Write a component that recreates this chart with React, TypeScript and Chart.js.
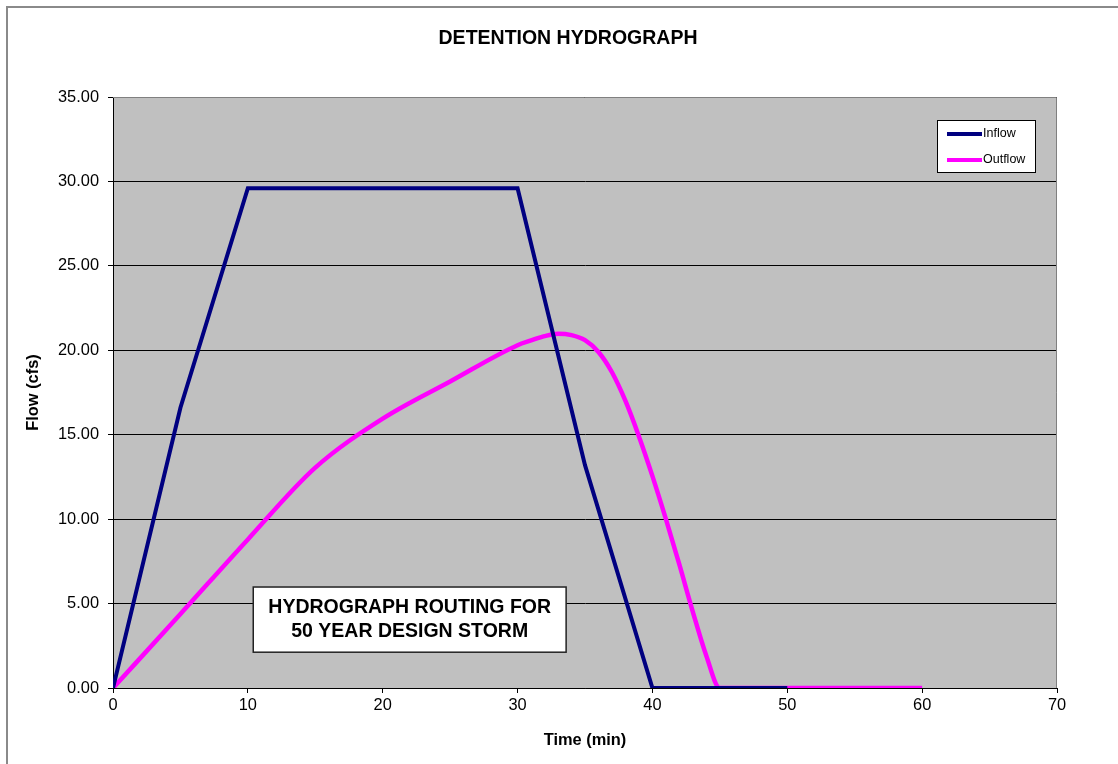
import React, { useEffect, useRef } from "react";
import { Chart, registerables } from "chart.js";

Chart.register(...registerables);

const FONT = '"Liberation Sans", Arial, sans-serif';

const TITLE = "DETENTION HYDROGRAPH";
const X_TITLE = "Time (min)";
const Y_TITLE = "Flow (cfs)";
const NOTE_LINES = ["HYDROGRAPH ROUTING FOR", "50 YEAR DESIGN STORM"];

const INFLOW_LABEL = "Inflow";
const OUTFLOW_LABEL = "Outflow";

const INFLOW_TIME = [0, 5, 10, 15, 20, 25, 30, 35, 40, 45, 50];
const INFLOW_FLOW = [0, 16.6, 29.6, 29.6, 29.6, 29.6, 29.6, 13.2, 0, 0, 0];

const OUTFLOW_TIME = [0, 5, 10, 15, 20, 25, 30, 31, 32, 33, 34, 35, 36, 37, 38, 39, 40, 41, 42, 43, 44, 45, 50, 55, 60];
const OUTFLOW_FLOW = [0, 4.38, 8.8, 13.05, 15.95, 18.15, 20.3, 20.58, 20.84, 20.98, 20.9, 20.6, 19.9, 18.7, 17.0, 14.9, 12.55, 10.0, 7.3, 4.5, 1.9, 0, 0, 0, 0];

const X_MIN = 0;
const X_MAX = 70;
const X_STEP = 10;
const Y_MIN = 0;
const Y_MAX = 35;
const Y_STEP = 5;

const INFLOW_COLOR = "#000080";
const OUTFLOW_COLOR = "#FF00FF";

const framePlugin = {
  id: "frameAndBackground",
  beforeDraw(chart: any) {
    const { ctx, chartArea, width, height } = chart;
    ctx.save();
    ctx.fillStyle = "#ffffff";
    ctx.fillRect(0, 0, width, height);
    // outer frame
    ctx.strokeStyle = "#8a8a8a";
    ctx.lineWidth = 2;
    ctx.beginPath();
    ctx.moveTo(7, height + 2);
    ctx.lineTo(7, 7);
    ctx.lineTo(width + 2, 7);
    ctx.stroke();
    // plot background
    ctx.fillStyle = "#C0C0C0";
    ctx.fillRect(
      chartArea.left,
      chartArea.top,
      chartArea.right - chartArea.left,
      chartArea.bottom - chartArea.top
    );
    // title
    ctx.fillStyle = "#000";
    ctx.font = `bold 19.5px ${FONT}`;
    ctx.textAlign = "center";
    ctx.textBaseline = "middle";
    ctx.fillText(TITLE, 568, 39);
    ctx.restore();
  },
  afterDraw(chart: any) {
    const { ctx, chartArea } = chart;
    ctx.save();
    // plot border top/right
    ctx.strokeStyle = "#808080";
    ctx.lineWidth = 1;
    ctx.beginPath();
    ctx.moveTo(chartArea.left, chartArea.top + 0.5);
    ctx.lineTo(chartArea.right - 0.5, chartArea.top + 0.5);
    ctx.lineTo(chartArea.right - 0.5, chartArea.bottom);
    ctx.stroke();

    // legend box
    const lx = chartArea.right - 120;
    const ly = chartArea.top + 23;
    const lw = 98;
    const lh = 52;
    ctx.fillStyle = "#ffffff";
    ctx.fillRect(lx, ly, lw, lh);
    ctx.strokeStyle = "#000";
    ctx.lineWidth = 1;
    ctx.strokeRect(lx + 0.5, ly + 0.5, lw, lh);
    chart.data.datasets.forEach((ds: any, i: number) => {
      const yy = ly + 14 + i * 26;
      ctx.strokeStyle = ds.borderColor;
      ctx.lineWidth = 4;
      ctx.beginPath();
      ctx.moveTo(lx + 10, yy);
      ctx.lineTo(lx + 45, yy);
      ctx.stroke();
      ctx.fillStyle = "#000";
      ctx.font = `12.5px ${FONT}`;
      ctx.textAlign = "left";
      ctx.textBaseline = "middle";
      ctx.fillText(ds.label, lx + 46, yy);
    });

    // note box
    const xs = chart.scales.x;
    const ys = chart.scales.y;
    const bx0 = xs.getPixelForValue(10.4);
    const bx1 = xs.getPixelForValue(33.6);
    const by0 = ys.getPixelForValue(5.98);
    const by1 = ys.getPixelForValue(2.12);
    ctx.fillStyle = "#ffffff";
    ctx.fillRect(bx0, by0, bx1 - bx0, by1 - by0);
    ctx.strokeStyle = "#222";
    ctx.lineWidth = 1.5;
    ctx.strokeRect(bx0, by0, bx1 - bx0, by1 - by0);
    ctx.fillStyle = "#000";
    ctx.font = `bold 19.5px ${FONT}`;
    ctx.textAlign = "center";
    ctx.textBaseline = "middle";
    const cx = (bx0 + bx1) / 2;
    const cy = (by0 + by1) / 2;
    ctx.fillText(NOTE_LINES[0], cx, cy - 11.5);
    ctx.fillText(NOTE_LINES[1], cx, cy + 12);
    ctx.restore();
  },
};

export default function App() {
  const canvasRef = useRef<HTMLCanvasElement | null>(null);

  useEffect(() => {
    const canvas = canvasRef.current;
    if (!canvas) return;
    const inflowData = INFLOW_TIME.map((t, i) => ({ x: t, y: INFLOW_FLOW[i] }));
    const outflowData = OUTFLOW_TIME.map((t, i) => ({ x: t, y: OUTFLOW_FLOW[i] }));

    const chart = new Chart(canvas, {
      type: "line",
      data: {
        datasets: [
          {
            label: INFLOW_LABEL,
            data: inflowData,
            borderColor: INFLOW_COLOR,
            backgroundColor: INFLOW_COLOR,
            borderWidth: 4,
            pointRadius: 0,
            tension: 0,
            fill: false,
          },
          {
            label: OUTFLOW_LABEL,
            data: outflowData,
            borderColor: OUTFLOW_COLOR,
            backgroundColor: OUTFLOW_COLOR,
            borderWidth: 4.5,
            pointRadius: 0,
            cubicInterpolationMode: "monotone",
            fill: false,
          },
        ],
      },
      options: {
        animation: false,
        responsive: false,
        devicePixelRatio: 1,
        layout: { padding: { left: 0, top: 97, right: 61, bottom: 0 } },
        plugins: {
          legend: { display: false },
          title: { display: false },
          tooltip: { enabled: false },
        },
        elements: { point: { radius: 0 } },
        scales: {
          x: {
            type: "linear",
            min: X_MIN,
            max: X_MAX,
            ticks: {
              stepSize: X_STEP,
              color: "#000",
              font: { family: FONT, size: 16.4 },
              padding: 3,
              maxRotation: 0,
            },
            grid: {
              drawOnChartArea: false,
              drawTicks: true,
              tickLength: 5,
              color: "#000",
            },
            border: { color: "#000", width: 1 },
            title: {
              display: true,
              text: X_TITLE,
              color: "#000",
              font: { family: FONT, size: 16.4, weight: "bold" },
              padding: { top: 0, bottom: 14 },
            },
            afterFit: (s: any) => {
              s.height = 76;
            },
          },
          y: {
            type: "linear",
            min: Y_MIN,
            max: Y_MAX,
            ticks: {
              stepSize: Y_STEP,
              color: "#000",
              font: { family: FONT, size: 16.4 },
              padding: 9,
              callback: (v: any) => Number(v).toFixed(2),
            },
            grid: {
              color: "#000",
              lineWidth: 1,
              tickLength: 5,
            },
            border: { color: "#000", width: 1 },
            title: {
              display: true,
              text: Y_TITLE,
              color: "#000",
              font: { family: FONT, size: 16.4, weight: "bold" },
              padding: { top: 23.5, bottom: 0 },
            },
            afterFit: (s: any) => {
              s.width = 113;
            },
          },
        },
      },
      plugins: [framePlugin],
    } as any);

    return () => chart.destroy();
  }, []);

  return (
    <div
      style={{
        position: "fixed",
        left: 0,
        top: 0,
        width: 1118,
        height: 764,
        background: "#fff",
      }}
    >
      <canvas ref={canvasRef} width={1118} height={764} style={{ display: "block" }} />
    </div>
  );
}
